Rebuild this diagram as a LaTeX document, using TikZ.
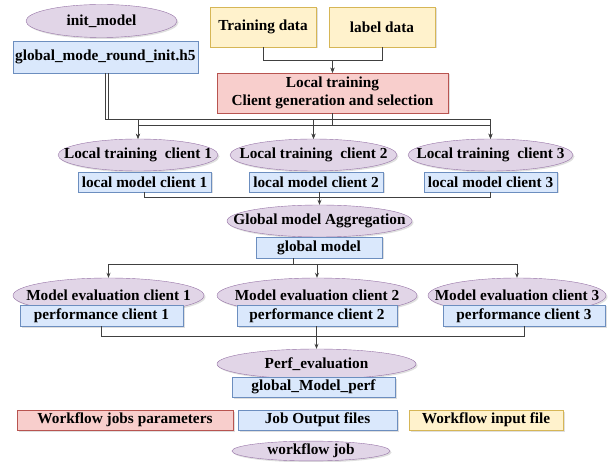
\documentclass[tikz,border=0pt]{standalone}
\usepackage{fontspec}
\setmainfont{Liberation Serif}
\usetikzlibrary{shapes.geometric,arrows.meta,shadows}

\definecolor{jobfill}{HTML}{E1D5E7}
\definecolor{jobdraw}{HTML}{9673A6}
\definecolor{outfill}{HTML}{DAE8FC}
\definecolor{outdraw}{HTML}{6C8EBF}
\definecolor{infill}{HTML}{FFF2CC}
\definecolor{indraw}{HTML}{D6B656}
\definecolor{parfill}{HTML}{F8CECC}
\definecolor{pardraw}{HTML}{B85450}

\tikzset{
  base/.style={inner sep=0pt, align=center,
    font=\fontsize{15.3}{18.5}\selectfont\bfseries,
    drop shadow={shadow xshift=1.5pt, shadow yshift=-1.5pt, opacity=0.25}},
  job/.style={base, ellipse, draw=jobdraw, fill=jobfill},
  outfile/.style={base, rectangle, draw=outdraw, fill=outfill},
  infile/.style={base, rectangle, draw=indraw, fill=infill},
  param/.style={base, rectangle, draw=pardraw, fill=parfill},
  wire/.style={draw=black!75, line width=0.8pt},
  link/.style={wire, -{Stealth[length=5pt,width=4pt]}}
}

\begin{document}
\begin{tikzpicture}[x=1pt, y=-1pt]
\useasboundingbox (0,0) rectangle (613,462);

% inputs
\node[job, minimum width=151pt, minimum height=33pt] (initm) at (101.5,21) {\makebox[0pt]{init\_model}};
\node[outfile, minimum width=185pt, minimum height=32pt] (initf) at (105.3,57) {global\_mode\_round\_init.h5};
\node[infile, minimum width=106pt, minimum height=40pt] (train) at (263,27) {Training data};
\node[infile, minimum width=106pt, minimum height=40pt] (label) at (382,27) {label data};
\node[param, minimum width=231pt, minimum height=40pt] (ltrain) at (332.5,93) {Local training\\Client generation and selection};

% local training
\node[job, minimum width=160pt, minimum height=32pt] (lt1) at (138,155) {\makebox[0pt]{Local training~ client 1}};
\node[job, minimum width=167pt, minimum height=32pt] (lt2) at (313.5,155) {\makebox[0pt]{Local training~ client 2}};
\node[job, minimum width=165pt, minimum height=32pt] (lt3) at (490.5,155) {\makebox[0pt]{Local training~ client 3}};
\node[outfile, minimum width=133pt, minimum height=20pt] (lm1) at (144.5,182) {local model client 1};
\node[outfile, minimum width=134pt, minimum height=20pt] (lm2) at (316,182) {local model client 2};
\node[outfile, minimum width=133pt, minimum height=20pt] (lm3) at (490.5,182) {local model client 3};

% aggregation
\node[job, minimum width=185pt, minimum height=32pt] (gagg) at (319.5,221) {\makebox[0pt]{Global model Aggregation}};
\node[outfile, minimum width=126pt, minimum height=21pt] (gmod) at (319,247.5) {global model};

% evaluation
\node[job, minimum width=191pt, minimum height=35pt] (ev1) at (108.5,295.5) {\makebox[0pt]{Model evaluation client 1}};
\node[job, minimum width=200pt, minimum height=35pt] (ev2) at (317,295.5) {\makebox[0pt]{Model evaluation client 2}};
\node[job, minimum width=178pt, minimum height=35pt] (ev3) at (517,295.5) {\makebox[0pt]{Model evaluation client 3}};
\node[outfile, minimum width=163pt, minimum height=21pt] (pf1) at (101.5,315.5) {performance client 1};
\node[outfile, minimum width=160pt, minimum height=21pt] (pf2) at (317,315.5) {performance client 2};
\node[outfile, minimum width=162pt, minimum height=21pt] (pf3) at (524,315.5) {performance client 3};

\node[job, minimum width=199pt, minimum height=30pt] (perfev) at (316.5,364) {\makebox[0pt]{Perf\_evaluation}};
\node[outfile, minimum width=163pt, minimum height=20pt] (gperf) at (313.5,387) {global\_Model\_perf};

% legend
\node[param, minimum width=216pt, minimum height=20pt] (legpar) at (125,420) {Workflow jobs parameters};
\node[outfile, minimum width=159pt, minimum height=20pt] (legout) at (317.5,420) {Job Output files};
\node[infile, minimum width=154pt, minimum height=20pt] (legin) at (486,420) {Workflow input file};
\node[job, minimum width=158pt, minimum height=17pt] (legjob) at (311,451) {\makebox[0pt]{workflow job}};

% buses
\coordinate (bus0) at (0,60);
\coordinate (bus1) at (0,119);
\coordinate (bus2) at (0,125);
\coordinate (bus3) at (0,197);
\coordinate (bus4) at (0,264);
\coordinate (bus5) at (0,336);

\draw[link] (train.south) |- (ltrain.north |- bus0) -- (ltrain.north);
\draw[link] (label.south) |- (ltrain.north |- bus0) -- (ltrain.north);

\draw[link] (initf.south) |- (lt1.north |- bus1) -- (lt1.north);
\draw[link] ([xshift=3pt]initf.south) |- (lt2.north |- bus1) -- (lt2.north);
\draw[link] (initf.south) |- (lt3.north |- bus1) -- (lt3.north);
\foreach \c in {lt1,lt2,lt3}
  \draw[link] (ltrain.south) |- (\c.north |- bus2) -- (\c.north);

\draw[wire] (lm1.south) |- (gagg.north |- bus3);
\draw[wire] (lm3.south) |- (gagg.north |- bus3);
\draw[link] (gagg.north |- lm2.south) -- (gagg.north);

\foreach \c in {ev1,ev2,ev3}
  \draw[link] ([xshift=-26pt]gmod.south) |- (\c.north |- bus4) -- (\c.north);

\draw[wire] (pf1.south) |- (perfev.north |- bus5);
\draw[wire] (pf3.south) |- (perfev.north |- bus5);
\draw[link] (perfev.north |- pf2.south) -- (perfev.north);
\end{tikzpicture}
\end{document}
